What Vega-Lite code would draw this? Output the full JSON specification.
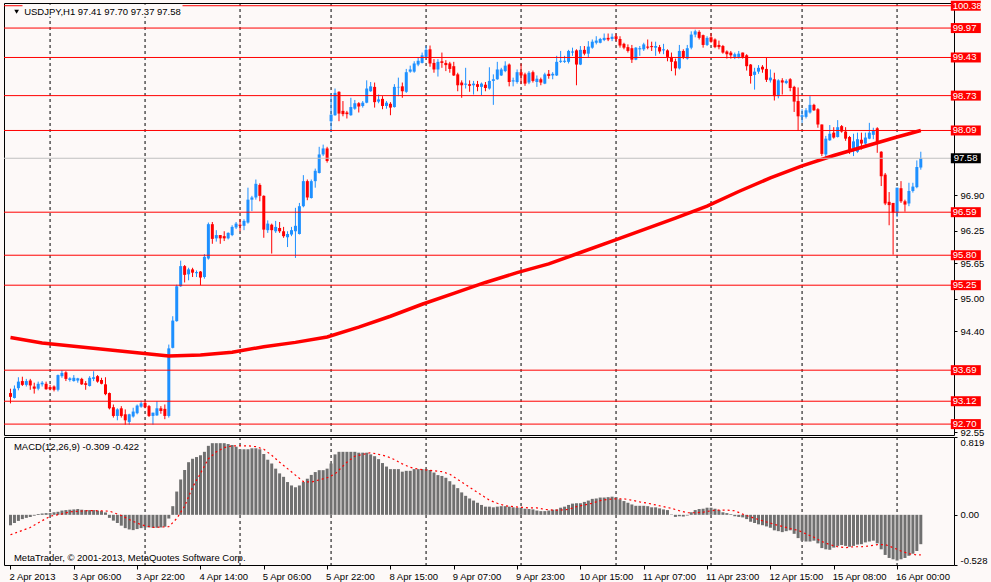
{
  "$schema": "https://vega.github.io/schema/vega-lite/v6.json",
  "background": "#fdf9f8",
  "padding": {"left": 2, "top": 0, "right": 4, "bottom": 4},
  "bounds": "flush",
  "spacing": 2,
  "config": {
    "view": {"stroke": "#000000", "strokeWidth": 1, "fill": "#fdf9f8"},
    "font": "Liberation Sans",
    "axis": {"labelFont": "Liberation Sans", "labelFontSize": 9.5, "labelColor": "#000000", "tickColor": "#000000", "domain": false, "grid": false, "tickSize": 3, "labelPadding": 3}
  },
  "datasets": {
    "bars": [
      {"i":0,"o":93.27,"h":93.35,"l":93.08,"c":93.20,"m":-0.11},
      {"i":1,"o":93.18,"h":93.41,"l":93.17,"c":93.35,"m":-0.086},
      {"i":2,"o":93.36,"h":93.56,"l":93.32,"c":93.48,"m":-0.064},
      {"i":3,"o":93.49,"h":93.57,"l":93.40,"c":93.42,"m":-0.045},
      {"i":4,"o":93.42,"h":93.53,"l":93.39,"c":93.49,"m":-0.032},
      {"i":5,"o":93.50,"h":93.53,"l":93.33,"c":93.41,"m":-0.023},
      {"i":6,"o":93.39,"h":93.46,"l":93.26,"c":93.35,"m":-0.009},
      {"i":7,"o":93.35,"h":93.48,"l":93.32,"c":93.44,"m":0.009},
      {"i":8,"o":93.43,"h":93.49,"l":93.39,"c":93.46,"m":0.014},
      {"i":9,"o":93.44,"h":93.48,"l":93.33,"c":93.34,"m":0.018},
      {"i":10,"o":93.38,"h":93.42,"l":93.32,"c":93.34,"m":0.018},
      {"i":11,"o":93.39,"h":93.41,"l":93.30,"c":93.33,"m":0.027},
      {"i":12,"o":93.33,"h":93.61,"l":93.30,"c":93.60,"m":0.032},
      {"i":13,"o":93.58,"h":93.69,"l":93.55,"c":93.64,"m":0.045},
      {"i":14,"o":93.65,"h":93.67,"l":93.49,"c":93.53,"m":0.05},
      {"i":15,"o":93.51,"h":93.56,"l":93.48,"c":93.54,"m":0.054},
      {"i":16,"o":93.49,"h":93.60,"l":93.48,"c":93.55,"m":0.057},
      {"i":17,"o":93.50,"h":93.55,"l":93.46,"c":93.54,"m":0.061},
      {"i":18,"o":93.53,"h":93.55,"l":93.42,"c":93.43,"m":0.054},
      {"i":19,"o":93.45,"h":93.49,"l":93.33,"c":93.42,"m":0.05},
      {"i":20,"o":93.40,"h":93.58,"l":93.39,"c":93.55,"m":0.05},
      {"i":21,"o":93.53,"h":93.67,"l":93.49,"c":93.56,"m":0.05},
      {"i":22,"o":93.58,"h":93.60,"l":93.46,"c":93.48,"m":0.045},
      {"i":23,"o":93.51,"h":93.55,"l":93.43,"c":93.44,"m":0.039},
      {"i":24,"o":93.43,"h":93.56,"l":93.23,"c":93.25,"m":0.025},
      {"i":25,"o":93.27,"h":93.28,"l":92.97,"c":92.99,"m":-0.032},
      {"i":26,"o":93.01,"h":93.06,"l":92.82,"c":92.85,"m":-0.061},
      {"i":27,"o":92.85,"h":92.99,"l":92.77,"c":92.97,"m":-0.086},
      {"i":28,"o":92.99,"h":93.03,"l":92.82,"c":92.85,"m":-0.114},
      {"i":29,"o":92.88,"h":92.97,"l":92.69,"c":92.77,"m":-0.14},
      {"i":30,"o":92.74,"h":92.89,"l":92.69,"c":92.88,"m":-0.154},
      {"i":31,"o":92.84,"h":93.00,"l":92.82,"c":92.93,"m":-0.161},
      {"i":32,"o":92.90,"h":93.06,"l":92.88,"c":93.04,"m":-0.15},
      {"i":33,"o":93.02,"h":93.13,"l":93.00,"c":93.08,"m":-0.14},
      {"i":34,"o":93.09,"h":93.11,"l":92.99,"c":93.01,"m":-0.133},
      {"i":35,"o":93.03,"h":93.05,"l":92.83,"c":92.85,"m":-0.133},
      {"i":36,"o":92.85,"h":92.91,"l":92.69,"c":92.91,"m":-0.136},
      {"i":37,"o":92.86,"h":93.12,"l":92.85,"c":92.99,"m":-0.136},
      {"i":38,"o":92.99,"h":93.03,"l":92.89,"c":92.94,"m":-0.133},
      {"i":39,"o":92.98,"h":93.06,"l":92.79,"c":92.85,"m":-0.125},
      {"i":40,"o":92.85,"h":94.16,"l":92.82,"c":94.09,"m":-0.039},
      {"i":41,"o":94.10,"h":94.68,"l":94.09,"c":94.60,"m":0.091},
      {"i":42,"o":94.59,"h":95.26,"l":94.58,"c":95.23,"m":0.245},
      {"i":43,"o":95.23,"h":95.70,"l":95.22,"c":95.60,"m":0.372},
      {"i":44,"o":95.60,"h":95.62,"l":95.30,"c":95.44,"m":0.472},
      {"i":45,"o":95.45,"h":95.57,"l":95.34,"c":95.54,"m":0.554},
      {"i":46,"o":95.54,"h":95.57,"l":95.40,"c":95.48,"m":0.59},
      {"i":47,"o":95.47,"h":95.52,"l":95.40,"c":95.49,"m":0.608},
      {"i":48,"o":95.50,"h":95.51,"l":95.25,"c":95.39,"m":0.627},
      {"i":49,"o":95.40,"h":95.82,"l":95.37,"c":95.77,"m":0.663},
      {"i":50,"o":95.74,"h":96.40,"l":95.72,"c":96.37,"m":0.726},
      {"i":51,"o":96.37,"h":96.41,"l":96.01,"c":96.10,"m":0.754},
      {"i":52,"o":96.11,"h":96.26,"l":96.05,"c":96.17,"m":0.754},
      {"i":53,"o":96.17,"h":96.17,"l":96.01,"c":96.11,"m":0.754},
      {"i":54,"o":96.15,"h":96.24,"l":96.06,"c":96.11,"m":0.754},
      {"i":55,"o":96.11,"h":96.22,"l":96.09,"c":96.21,"m":0.745},
      {"i":56,"o":96.17,"h":96.35,"l":96.15,"c":96.32,"m":0.735},
      {"i":57,"o":96.31,"h":96.41,"l":96.28,"c":96.38,"m":0.717},
      {"i":58,"o":96.36,"h":96.46,"l":96.24,"c":96.34,"m":0.69},
      {"i":59,"o":96.34,"h":96.46,"l":96.26,"c":96.43,"m":0.69},
      {"i":60,"o":96.40,"h":97.04,"l":96.38,"c":96.82,"m":0.69},
      {"i":61,"o":96.82,"h":96.89,"l":96.61,"c":96.86,"m":0.70},
      {"i":62,"o":96.86,"h":97.19,"l":96.82,"c":97.11,"m":0.70},
      {"i":63,"o":97.09,"h":97.12,"l":96.79,"c":96.89,"m":0.69},
      {"i":64,"o":96.89,"h":96.90,"l":96.12,"c":96.27,"m":0.64},
      {"i":65,"o":96.26,"h":96.44,"l":96.21,"c":96.38,"m":0.58},
      {"i":66,"o":96.36,"h":96.38,"l":95.83,"c":96.26,"m":0.54},
      {"i":67,"o":96.24,"h":96.43,"l":96.21,"c":96.32,"m":0.486},
      {"i":68,"o":96.30,"h":96.41,"l":96.21,"c":96.24,"m":0.436},
      {"i":69,"o":96.24,"h":96.32,"l":96.12,"c":96.15,"m":0.40},
      {"i":70,"o":96.13,"h":96.24,"l":95.95,"c":96.19,"m":0.345},
      {"i":71,"o":96.18,"h":96.32,"l":96.15,"c":96.26,"m":0.309},
      {"i":72,"o":96.24,"h":96.67,"l":95.75,"c":96.34,"m":0.29},
      {"i":73,"o":96.19,"h":96.76,"l":96.18,"c":96.70,"m":0.309},
      {"i":74,"o":96.70,"h":97.27,"l":96.68,"c":97.16,"m":0.345},
      {"i":75,"o":97.16,"h":97.19,"l":96.81,"c":96.86,"m":0.38},
      {"i":76,"o":96.85,"h":97.19,"l":96.84,"c":97.16,"m":0.42},
      {"i":77,"o":97.16,"h":97.39,"l":97.04,"c":97.35,"m":0.45},
      {"i":78,"o":97.31,"h":97.79,"l":97.30,"c":97.65,"m":0.47},
      {"i":79,"o":97.65,"h":97.83,"l":97.62,"c":97.76,"m":0.47},
      {"i":80,"o":97.76,"h":97.79,"l":97.50,"c":97.53,"m":0.486},
      {"i":81,"o":98.26,"h":98.76,"l":98.06,"c":98.38,"m":0.54},
      {"i":82,"o":98.37,"h":98.86,"l":98.36,"c":98.78,"m":0.636},
      {"i":83,"o":98.80,"h":98.81,"l":98.26,"c":98.40,"m":0.663},
      {"i":84,"o":98.45,"h":98.63,"l":98.35,"c":98.39,"m":0.663},
      {"i":85,"o":98.42,"h":98.45,"l":98.31,"c":98.39,"m":0.663},
      {"i":86,"o":98.37,"h":98.69,"l":98.36,"c":98.52,"m":0.663},
      {"i":87,"o":98.49,"h":98.65,"l":98.47,"c":98.59,"m":0.663},
      {"i":88,"o":98.59,"h":98.61,"l":98.42,"c":98.53,"m":0.654},
      {"i":89,"o":98.54,"h":98.63,"l":98.51,"c":98.60,"m":0.654},
      {"i":90,"o":98.60,"h":99.01,"l":98.59,"c":98.86,"m":0.654},
      {"i":91,"o":98.81,"h":98.98,"l":98.80,"c":98.90,"m":0.636},
      {"i":92,"o":98.89,"h":98.97,"l":98.51,"c":98.61,"m":0.617},
      {"i":93,"o":98.62,"h":98.75,"l":98.59,"c":98.66,"m":0.586},
      {"i":94,"o":98.67,"h":98.72,"l":98.48,"c":98.54,"m":0.545},
      {"i":95,"o":98.54,"h":98.63,"l":98.49,"c":98.60,"m":0.508},
      {"i":96,"o":98.58,"h":98.61,"l":98.37,"c":98.51,"m":0.481},
      {"i":97,"o":98.52,"h":98.94,"l":98.51,"c":98.89,"m":0.481},
      {"i":98,"o":98.88,"h":99.06,"l":98.72,"c":98.89,"m":0.481},
      {"i":99,"o":98.90,"h":98.97,"l":98.69,"c":98.81,"m":0.454},
      {"i":100,"o":98.80,"h":99.22,"l":98.78,"c":99.16,"m":0.463},
      {"i":101,"o":99.17,"h":99.28,"l":99.15,"c":99.21,"m":0.463},
      {"i":102,"o":99.17,"h":99.36,"l":99.15,"c":99.32,"m":0.481},
      {"i":103,"o":99.30,"h":99.43,"l":99.27,"c":99.37,"m":0.481},
      {"i":104,"o":99.33,"h":99.52,"l":99.32,"c":99.47,"m":0.481},
      {"i":105,"o":99.44,"h":99.64,"l":99.43,"c":99.57,"m":0.481},
      {"i":106,"o":99.58,"h":99.65,"l":99.26,"c":99.32,"m":0.472},
      {"i":107,"o":99.33,"h":99.40,"l":99.15,"c":99.21,"m":0.445},
      {"i":108,"o":99.21,"h":99.40,"l":99.08,"c":99.35,"m":0.418},
      {"i":109,"o":99.36,"h":99.52,"l":99.24,"c":99.33,"m":0.409},
      {"i":110,"o":99.33,"h":99.38,"l":99.18,"c":99.29,"m":0.39},
      {"i":111,"o":99.32,"h":99.35,"l":99.15,"c":99.22,"m":0.354},
      {"i":112,"o":99.27,"h":99.35,"l":99.09,"c":99.10,"m":0.318},
      {"i":113,"o":99.12,"h":99.15,"l":98.81,"c":98.92,"m":0.281},
      {"i":114,"o":98.97,"h":99.01,"l":98.69,"c":98.92,"m":0.236},
      {"i":115,"o":98.93,"h":99.24,"l":98.86,"c":98.95,"m":0.20},
      {"i":116,"o":98.94,"h":99.01,"l":98.80,"c":98.91,"m":0.172},
      {"i":117,"o":98.92,"h":99.00,"l":98.75,"c":98.95,"m":0.15},
      {"i":118,"o":98.94,"h":99.00,"l":98.81,"c":98.89,"m":0.127},
      {"i":119,"o":98.89,"h":98.97,"l":98.74,"c":98.95,"m":0.104},
      {"i":120,"o":98.93,"h":98.98,"l":98.81,"c":98.87,"m":0.086},
      {"i":121,"o":98.86,"h":99.25,"l":98.84,"c":99.00,"m":0.086},
      {"i":122,"o":99.00,"h":99.12,"l":98.56,"c":99.03,"m":0.079},
      {"i":123,"o":99.03,"h":99.35,"l":99.02,"c":99.21,"m":0.086},
      {"i":124,"o":99.10,"h":99.24,"l":99.09,"c":99.21,"m":0.091},
      {"i":125,"o":99.18,"h":99.36,"l":99.16,"c":99.28,"m":0.091},
      {"i":126,"o":99.30,"h":99.32,"l":98.90,"c":98.98,"m":0.086},
      {"i":127,"o":98.99,"h":99.06,"l":98.90,"c":99.01,"m":0.079},
      {"i":128,"o":98.98,"h":99.21,"l":98.95,"c":99.16,"m":0.075},
      {"i":129,"o":99.16,"h":99.32,"l":98.94,"c":99.10,"m":0.075},
      {"i":130,"o":99.12,"h":99.15,"l":98.91,"c":98.95,"m":0.064},
      {"i":131,"o":98.97,"h":99.18,"l":98.94,"c":99.15,"m":0.061},
      {"i":132,"o":99.16,"h":99.19,"l":98.97,"c":99.00,"m":0.057},
      {"i":133,"o":98.98,"h":99.10,"l":98.89,"c":99.04,"m":0.045},
      {"i":134,"o":99.03,"h":99.06,"l":98.92,"c":98.97,"m":0.039},
      {"i":135,"o":98.95,"h":99.15,"l":98.94,"c":99.12,"m":0.039},
      {"i":136,"o":99.13,"h":99.20,"l":99.04,"c":99.09,"m":0.045},
      {"i":137,"o":99.10,"h":99.16,"l":99.03,"c":99.13,"m":0.054},
      {"i":138,"o":99.10,"h":99.46,"l":99.09,"c":99.35,"m":0.057},
      {"i":139,"o":99.35,"h":99.55,"l":99.33,"c":99.37,"m":0.075},
      {"i":140,"o":99.35,"h":99.46,"l":99.33,"c":99.37,"m":0.086},
      {"i":141,"o":99.35,"h":99.57,"l":99.32,"c":99.55,"m":0.104},
      {"i":142,"o":99.52,"h":99.61,"l":99.46,"c":99.54,"m":0.118},
      {"i":143,"o":99.56,"h":99.58,"l":98.92,"c":99.30,"m":0.122},
      {"i":144,"o":99.30,"h":99.64,"l":99.29,"c":99.57,"m":0.122},
      {"i":145,"o":99.57,"h":99.64,"l":99.47,"c":99.50,"m":0.136},
      {"i":146,"o":99.50,"h":99.73,"l":99.43,"c":99.63,"m":0.15},
      {"i":147,"o":99.61,"h":99.76,"l":99.59,"c":99.72,"m":0.168},
      {"i":148,"o":99.70,"h":99.82,"l":99.67,"c":99.74,"m":0.172},
      {"i":149,"o":99.70,"h":99.79,"l":99.69,"c":99.77,"m":0.182},
      {"i":150,"o":99.75,"h":99.87,"l":99.73,"c":99.79,"m":0.182},
      {"i":151,"o":99.79,"h":99.87,"l":99.73,"c":99.76,"m":0.186},
      {"i":152,"o":99.77,"h":99.87,"l":99.73,"c":99.81,"m":0.191},
      {"i":153,"o":99.82,"h":99.87,"l":99.73,"c":99.77,"m":0.186},
      {"i":154,"o":99.77,"h":99.82,"l":99.61,"c":99.65,"m":0.163},
      {"i":155,"o":99.68,"h":99.70,"l":99.58,"c":99.61,"m":0.145},
      {"i":156,"o":99.62,"h":99.67,"l":99.52,"c":99.55,"m":0.127},
      {"i":157,"o":99.60,"h":99.66,"l":99.33,"c":99.39,"m":0.109},
      {"i":158,"o":99.39,"h":99.62,"l":99.38,"c":99.61,"m":0.095},
      {"i":159,"o":99.58,"h":99.64,"l":99.46,"c":99.60,"m":0.095},
      {"i":160,"o":99.58,"h":99.70,"l":99.55,"c":99.67,"m":0.095},
      {"i":161,"o":99.63,"h":99.76,"l":99.58,"c":99.61,"m":0.091},
      {"i":162,"o":99.64,"h":99.72,"l":99.55,"c":99.62,"m":0.079},
      {"i":163,"o":99.61,"h":99.72,"l":99.46,"c":99.64,"m":0.079},
      {"i":164,"o":99.62,"h":99.66,"l":99.50,"c":99.54,"m":0.068},
      {"i":165,"o":99.56,"h":99.68,"l":99.49,"c":99.58,"m":0.057},
      {"i":166,"o":99.56,"h":99.58,"l":99.36,"c":99.44,"m":0.05},
      {"i":167,"o":99.44,"h":99.52,"l":99.18,"c":99.35,"m":0.004},
      {"i":168,"o":99.36,"h":99.41,"l":99.10,"c":99.23,"m":-0.022},
      {"i":169,"o":99.23,"h":99.66,"l":99.21,"c":99.55,"m":-0.015},
      {"i":170,"o":99.55,"h":99.58,"l":99.40,"c":99.44,"m":-0.018},
      {"i":171,"o":99.41,"h":99.66,"l":99.39,"c":99.60,"m":-0.007},
      {"i":172,"o":99.61,"h":99.91,"l":99.58,"c":99.85,"m":0.027},
      {"i":173,"o":99.85,"h":99.94,"l":99.80,"c":99.91,"m":0.05},
      {"i":174,"o":99.90,"h":99.93,"l":99.76,"c":99.79,"m":0.061},
      {"i":175,"o":99.84,"h":99.85,"l":99.61,"c":99.66,"m":0.064},
      {"i":176,"o":99.66,"h":99.82,"l":99.64,"c":99.79,"m":0.075},
      {"i":177,"o":99.80,"h":99.88,"l":99.70,"c":99.72,"m":0.075},
      {"i":178,"o":99.76,"h":99.78,"l":99.60,"c":99.62,"m":0.064},
      {"i":179,"o":99.66,"h":99.74,"l":99.58,"c":99.62,"m":0.05},
      {"i":180,"o":99.64,"h":99.66,"l":99.50,"c":99.52,"m":0.027},
      {"i":181,"o":99.54,"h":99.56,"l":99.41,"c":99.49,"m":0.018},
      {"i":182,"o":99.52,"h":99.55,"l":99.41,"c":99.47,"m":0.007},
      {"i":183,"o":99.44,"h":99.52,"l":99.40,"c":99.49,"m":-0.015},
      {"i":184,"o":99.44,"h":99.55,"l":99.41,"c":99.50,"m":-0.022},
      {"i":185,"o":99.52,"h":99.52,"l":99.41,"c":99.44,"m":-0.027},
      {"i":186,"o":99.47,"h":99.49,"l":99.19,"c":99.27,"m":-0.045},
      {"i":187,"o":99.30,"h":99.31,"l":98.95,"c":99.09,"m":-0.073},
      {"i":188,"o":99.11,"h":99.24,"l":98.84,"c":99.17,"m":-0.086},
      {"i":189,"o":99.17,"h":99.29,"l":99.13,"c":99.24,"m":-0.10},
      {"i":190,"o":99.26,"h":99.29,"l":99.15,"c":99.21,"m":-0.109},
      {"i":191,"o":99.22,"h":99.42,"l":98.98,"c":99.02,"m":-0.122},
      {"i":192,"o":99.01,"h":99.21,"l":98.97,"c":99.06,"m":-0.136},
      {"i":193,"o":99.03,"h":99.15,"l":98.64,"c":98.72,"m":-0.163},
      {"i":194,"o":98.72,"h":99.03,"l":98.68,"c":99.01,"m":-0.172},
      {"i":195,"o":99.01,"h":99.05,"l":98.75,"c":98.97,"m":-0.182},
      {"i":196,"o":98.96,"h":99.03,"l":98.94,"c":99.00,"m":-0.172},
      {"i":197,"o":99.03,"h":99.05,"l":98.81,"c":98.87,"m":-0.163},
      {"i":198,"o":98.89,"h":98.91,"l":98.43,"c":98.62,"m":-0.20},
      {"i":199,"o":98.63,"h":98.88,"l":98.08,"c":98.35,"m":-0.245},
      {"i":200,"o":98.34,"h":98.48,"l":98.23,"c":98.37,"m":-0.272},
      {"i":201,"o":98.34,"h":98.50,"l":98.31,"c":98.46,"m":-0.281},
      {"i":202,"o":98.42,"h":98.72,"l":98.40,"c":98.56,"m":-0.281},
      {"i":203,"o":98.56,"h":98.58,"l":98.45,"c":98.46,"m":-0.272},
      {"i":204,"o":98.48,"h":98.50,"l":98.14,"c":98.20,"m":-0.30},
      {"i":205,"o":98.20,"h":98.20,"l":97.62,"c":97.66,"m":-0.35},
      {"i":206,"o":97.65,"h":97.99,"l":97.60,"c":97.94,"m":-0.363},
      {"i":207,"o":97.91,"h":98.19,"l":97.90,"c":98.03,"m":-0.368},
      {"i":208,"o":98.05,"h":98.15,"l":97.94,"c":97.96,"m":-0.345},
      {"i":209,"o":97.97,"h":98.28,"l":97.96,"c":98.15,"m":-0.327},
      {"i":210,"o":98.17,"h":98.19,"l":98.05,"c":98.07,"m":-0.318},
      {"i":211,"o":98.07,"h":98.15,"l":97.90,"c":97.94,"m":-0.327},
      {"i":212,"o":97.97,"h":97.99,"l":97.66,"c":97.70,"m":-0.336},
      {"i":213,"o":97.76,"h":98.03,"l":97.62,"c":97.89,"m":-0.327},
      {"i":214,"o":97.70,"h":98.05,"l":97.68,"c":97.93,"m":-0.313},
      {"i":215,"o":97.92,"h":98.05,"l":97.74,"c":97.85,"m":-0.309},
      {"i":216,"o":97.85,"h":98.05,"l":97.82,"c":97.96,"m":-0.29},
      {"i":217,"o":97.94,"h":98.23,"l":97.93,"c":98.05,"m":-0.281},
      {"i":218,"o":98.01,"h":98.14,"l":97.93,"c":98.08,"m":-0.272},
      {"i":219,"o":98.13,"h":98.15,"l":97.68,"c":97.88,"m":-0.30},
      {"i":220,"o":97.70,"h":97.71,"l":97.07,"c":97.25,"m":-0.363},
      {"i":221,"o":97.28,"h":97.31,"l":96.72,"c":96.75,"m":-0.422},
      {"i":222,"o":96.78,"h":96.96,"l":96.35,"c":96.72,"m":-0.454},
      {"i":223,"o":96.76,"h":96.76,"l":95.81,"c":96.58,"m":-0.468},
      {"i":224,"o":96.58,"h":97.04,"l":96.50,"c":97.04,"m":-0.481},
      {"i":225,"o":97.03,"h":97.16,"l":96.76,"c":96.79,"m":-0.468},
      {"i":226,"o":96.79,"h":96.82,"l":96.60,"c":96.73,"m":-0.454},
      {"i":227,"o":96.75,"h":97.13,"l":96.70,"c":96.98,"m":-0.431},
      {"i":228,"o":96.98,"h":97.13,"l":96.95,"c":97.06,"m":-0.409},
      {"i":229,"o":97.05,"h":97.54,"l":97.03,"c":97.42,"m":-0.381},
      {"i":230,"o":97.41,"h":97.70,"l":97.37,"c":97.58,"m":-0.309}
    ],
    "ma": [
      {"i":0,"ma":94.29},{"i":8,"ma":94.19},{"i":16,"ma":94.13},{"i":24,"ma":94.07},
      {"i":32,"ma":94.01},{"i":40,"ma":93.95},{"i":48,"ma":93.97},{"i":56,"ma":94.02},
      {"i":64,"ma":94.12},{"i":72,"ma":94.20},{"i":80,"ma":94.30},{"i":88,"ma":94.48},
      {"i":96,"ma":94.68},{"i":104,"ma":94.90},{"i":112,"ma":95.10},{"i":120,"ma":95.30},
      {"i":128,"ma":95.48},{"i":136,"ma":95.64},{"i":144,"ma":95.85},{"i":152,"ma":96.06},
      {"i":160,"ma":96.27},{"i":168,"ma":96.48},{"i":176,"ma":96.70},{"i":184,"ma":96.97},
      {"i":192,"ma":97.22},{"i":200,"ma":97.44},{"i":208,"ma":97.63},{"i":216,"ma":97.80},
      {"i":224,"ma":97.97},{"i":230,"ma":98.09}
    ],
    "signal": [
      {"i":0,"s":-0.21},{"i":5,"s":-0.133},{"i":10,"s":-0.015},{"i":13,"s":0.009},{"i":15,"s":0.032},
      {"i":20,"s":0.045},{"i":25,"s":0.039},{"i":28,"s":-0.007},{"i":30,"s":-0.05},{"i":33,"s":-0.104},
      {"i":36,"s":-0.133},{"i":40,"s":-0.125},{"i":42,"s":-0.039},{"i":44,"s":0.091},{"i":46,"s":0.29},
      {"i":48,"s":0.436},{"i":50,"s":0.59},{"i":52,"s":0.663},{"i":54,"s":0.708},{"i":56,"s":0.726},
      {"i":58,"s":0.726},{"i":60,"s":0.726},{"i":62,"s":0.717},{"i":64,"s":0.69},{"i":66,"s":0.627},
      {"i":68,"s":0.554},{"i":70,"s":0.486},{"i":72,"s":0.418},{"i":74,"s":0.35},{"i":76,"s":0.345},
      {"i":78,"s":0.368},{"i":80,"s":0.39},{"i":82,"s":0.43},{"i":83,"s":0.472},{"i":85,"s":0.554},
      {"i":87,"s":0.617},{"i":89,"s":0.636},{"i":91,"s":0.654},{"i":93,"s":0.636},{"i":95,"s":0.617},
      {"i":97,"s":0.581},{"i":99,"s":0.536},{"i":101,"s":0.50},{"i":103,"s":0.481},{"i":105,"s":0.472},
      {"i":107,"s":0.463},{"i":109,"s":0.454},{"i":111,"s":0.427},{"i":113,"s":0.372},{"i":115,"s":0.318},
      {"i":117,"s":0.263},{"i":119,"s":0.209},{"i":121,"s":0.154},{"i":123,"s":0.122},{"i":125,"s":0.096},
      {"i":127,"s":0.086},{"i":129,"s":0.079},{"i":131,"s":0.073},{"i":133,"s":0.073},{"i":135,"s":0.057},
      {"i":137,"s":0.05},{"i":139,"s":0.05},{"i":141,"s":0.057},{"i":143,"s":0.086},{"i":145,"s":0.104},
      {"i":147,"s":0.122},{"i":149,"s":0.15},{"i":151,"s":0.163},{"i":153,"s":0.168},{"i":155,"s":0.168},
      {"i":157,"s":0.154},{"i":159,"s":0.136},{"i":161,"s":0.122},{"i":163,"s":0.104},{"i":165,"s":0.086},
      {"i":167,"s":0.068},{"i":169,"s":0.043},{"i":171,"s":0.022},{"i":173,"s":0.022},{"i":175,"s":0.027},
      {"i":177,"s":0.043},{"i":179,"s":0.05},{"i":181,"s":0.05},{"i":183,"s":0.043},{"i":185,"s":0.007},
      {"i":187,"s":-0.022},{"i":189,"s":-0.05},{"i":191,"s":-0.075},{"i":193,"s":-0.10},{"i":195,"s":-0.122},
      {"i":197,"s":-0.145},{"i":199,"s":-0.163},{"i":201,"s":-0.20},{"i":203,"s":-0.236},{"i":205,"s":-0.281},
      {"i":207,"s":-0.313},{"i":209,"s":-0.336},{"i":211,"s":-0.345},{"i":213,"s":-0.336},{"i":215,"s":-0.336},
      {"i":217,"s":-0.327},{"i":219,"s":-0.313},{"i":221,"s":-0.313},{"i":223,"s":-0.345},{"i":225,"s":-0.381},
      {"i":227,"s":-0.409},{"i":229,"s":-0.422},{"i":230,"s":-0.422}
    ],
    "levels": [
      {"level":100.38},{"level":99.97},{"level":99.43},{"level":98.73},{"level":98.09},
      {"level":96.59},{"level":95.80},{"level":95.25},{"level":93.69},{"level":93.12},{"level":92.70}
    ],
    "bid": [{"bid":97.58}],
    "days": [{"i":10},{"i":34},{"i":58},{"i":81},{"i":105},{"i":129},{"i":153},{"i":177},{"i":200},{"i":224}]
  },
  "vconcat": [
    {
      "width": 950,
      "height": 432,
      "resolve": {"axis": {"x": "independent", "y": "independent"}},
      "layer": [
        {
          "data": {"name": "days"},
          "mark": {"type": "rule", "color": "#000000", "strokeWidth": 1, "strokeDash": [3, 3]},
          "encoding": {
            "x": {"field": "i", "type": "quantitative", "scale": {"domain": [-0.375, 237.125], "nice": false, "zero": false}, "axis": null}
          }
        },
        {
          "data": {"name": "bars"},
          "mark": {"type": "rule", "strokeWidth": 1},
          "encoding": {
            "x": {"field": "i", "type": "quantitative", "axis": null},
            "y": {"field": "l", "type": "quantitative", "scale": {"domain": [92.5, 100.43], "nice": false, "zero": false},
                  "axis": {"orient": "right", "title": null, "values": [92.55, 94.40, 95.00, 95.65, 96.25, 96.90], "format": ".2f", "labelOverlap": false, "labelFlush": false, "labelBound": false, "zindex": 0}},
            "y2": {"field": "h"},
            "color": {"condition": {"test": "datum.c >= datum.o", "value": "#1e90ff"}, "value": "#ff0000"}
          }
        },
        {
          "data": {"name": "bars"},
          "mark": {"type": "bar", "size": 3, "orient": "vertical"},
          "encoding": {
            "x": {"field": "i", "type": "quantitative", "axis": null},
            "y": {"field": "o", "type": "quantitative", "axis": null},
            "y2": {"field": "c"},
            "color": {"condition": {"test": "datum.c >= datum.o", "value": "#1e90ff"}, "value": "#ff0000"}
          }
        },
        {
          "data": {"name": "ma"},
          "mark": {"type": "line", "color": "#ff0000", "strokeWidth": 3.5},
          "encoding": {
            "x": {"field": "i", "type": "quantitative", "axis": null},
            "y": {"field": "ma", "type": "quantitative", "axis": null}
          }
        },
        {
          "data": {"name": "levels"},
          "mark": {"type": "rule", "color": "#ff0000", "strokeWidth": 1},
          "encoding": {
            "y": {"field": "level", "type": "quantitative", "axis": null}
          }
        },
        {
          "data": {"name": "bid"},
          "mark": {"type": "rule", "color": "#c0c0c0", "strokeWidth": 1},
          "encoding": {
            "y": {"field": "bid", "type": "quantitative", "axis": null}
          }
        },
        {
          "data": {"values": [{"t": "USDJPY,H1  97.41 97.70 97.37 97.58"}]},
          "mark": {"type": "tick", "orient": "horizontal", "color": "#fdf9f8", "size": 160, "thickness": 12, "opacity": 1},
          "encoding": {
            "x": {"datum": 23.25, "type": "quantitative", "axis": null},
            "y": {"datum": 100.29, "type": "quantitative", "axis": null}
          }
        },
        {
          "data": {"values": [{"t": "USDJPY,H1  97.41 97.70 97.37 97.58"}]},
          "mark": {"type": "point", "shape": "triangle-down", "filled": true, "color": "#000000", "size": 22, "opacity": 1},
          "encoding": {
            "x": {"datum": 1.55, "type": "quantitative", "axis": null},
            "y": {"datum": 100.27, "type": "quantitative", "axis": null}
          }
        },
        {
          "data": {"values": [{"t": "USDJPY,H1  97.41 97.70 97.37 97.58"}]},
          "mark": {"type": "text", "align": "left", "baseline": "middle", "font": "Liberation Sans", "fontSize": 9.5, "color": "#000000"},
          "encoding": {
            "x": {"datum": 3.45, "type": "quantitative", "axis": null},
            "y": {"datum": 100.27, "type": "quantitative", "axis": null},
            "text": {"field": "t"}
          }
        },
        {
          "data": {"name": "levels"},
          "mark": {"type": "tick", "orient": "horizontal", "color": "#ff0000", "size": 30, "thickness": 10, "opacity": 1},
          "encoding": {
            "x": {"datum": 241.375, "type": "quantitative", "axis": null},
            "y": {"field": "level", "type": "quantitative", "axis": null}
          }
        },
        {
          "data": {"name": "bid"},
          "mark": {"type": "tick", "orient": "horizontal", "color": "#000000", "size": 30, "thickness": 10, "opacity": 1},
          "encoding": {
            "x": {"datum": 241.375, "type": "quantitative", "axis": null},
            "y": {"field": "bid", "type": "quantitative", "axis": null}
          }
        },
        {
          "data": {"name": "levels"},
          "mark": {"type": "text", "align": "left", "baseline": "middle", "font": "Liberation Sans", "fontSize": 9.5, "color": "#ffffff"},
          "encoding": {
            "x": {"datum": 238.05, "type": "quantitative", "axis": null},
            "y": {"field": "level", "type": "quantitative", "axis": null},
            "text": {"field": "level", "type": "quantitative", "format": ".2f"}
          }
        },
        {
          "data": {"name": "bid"},
          "mark": {"type": "text", "align": "left", "baseline": "middle", "font": "Liberation Sans", "fontSize": 9.5, "color": "#ffffff"},
          "encoding": {
            "x": {"datum": 238.3, "type": "quantitative", "axis": null},
            "y": {"field": "bid", "type": "quantitative", "axis": null},
            "text": {"field": "bid", "type": "quantitative", "format": ".2f"}
          }
        }
      ]
    },
    {
      "width": 950,
      "height": 128,
      "resolve": {"axis": {"x": "independent", "y": "independent"}},
      "layer": [
        {
          "data": {"name": "days"},
          "mark": {"type": "rule", "color": "#000000", "strokeWidth": 1, "strokeDash": [3, 3]},
          "encoding": {
            "x": {"field": "i", "type": "quantitative", "scale": {"domain": [-0.375, 237.125], "nice": false, "zero": false},
                  "axis": {"orient": "bottom", "title": null, "values": [0,16,32,48,64,80,96,112,128,144,160,176,192,208,224],
                           "labelExpr": "['2 Apr 2013','3 Apr 06:00','3 Apr 22:00','4 Apr 14:00','5 Apr 06:00','5 Apr 22:00','8 Apr 15:00','9 Apr 07:00','9 Apr 23:00','10 Apr 15:00','11 Apr 07:00','11 Apr 23:00','12 Apr 15:00','15 Apr 08:00','16 Apr 00:00'][round(datum.value/16)]",
                           "labelAlign": "left", "labelBaseline": "top", "labelPadding": 2, "tickSize": 4, "labelOffset": -1.5, "labelOverlap": false, "labelBound": false, "labelFlush": false}}
          }
        },
        {
          "data": {"name": "bars"},
          "mark": {"type": "bar", "size": 3, "color": "#707070", "orient": "vertical"},
          "encoding": {
            "x": {"field": "i", "type": "quantitative", "axis": null},
            "y": {"field": "m", "type": "quantitative", "scale": {"domain": [-0.528, 0.819], "nice": false, "zero": false},
                  "axis": {"orient": "right", "title": null, "values": [0.819, 0, -0.528],
                           "labelExpr": "datum.value > 0.5 ? '0.819' : (datum.value < -0.5 ? '-0.528' : '0.00')",
                           "labelFlush": true, "labelOverlap": false, "labelBound": false}},
            "y2": {"datum": 0}
          }
        },
        {
          "data": {"name": "signal"},
          "mark": {"type": "line", "color": "#ff0000", "strokeWidth": 1.2, "strokeDash": [2, 3]},
          "encoding": {
            "x": {"field": "i", "type": "quantitative", "axis": null},
            "y": {"field": "s", "type": "quantitative", "axis": null}
          }
        },
        {
          "data": {"values": [{"t": "MACD(12,26,9) -0.309 -0.422", "v": 0.717}, {"t": "MetaTrader, © 2001-2013, MetaQuotes Software Corp.", "v": -0.451}]},
          "mark": {"type": "text", "align": "left", "baseline": "middle", "font": "Liberation Sans", "fontSize": 9.5, "color": "#000000"},
          "encoding": {
            "x": {"datum": 0.875, "type": "quantitative", "axis": null},
            "y": {"field": "v", "type": "quantitative", "axis": null},
            "text": {"field": "t"}
          }
        }
      ]
    }
  ]
}
